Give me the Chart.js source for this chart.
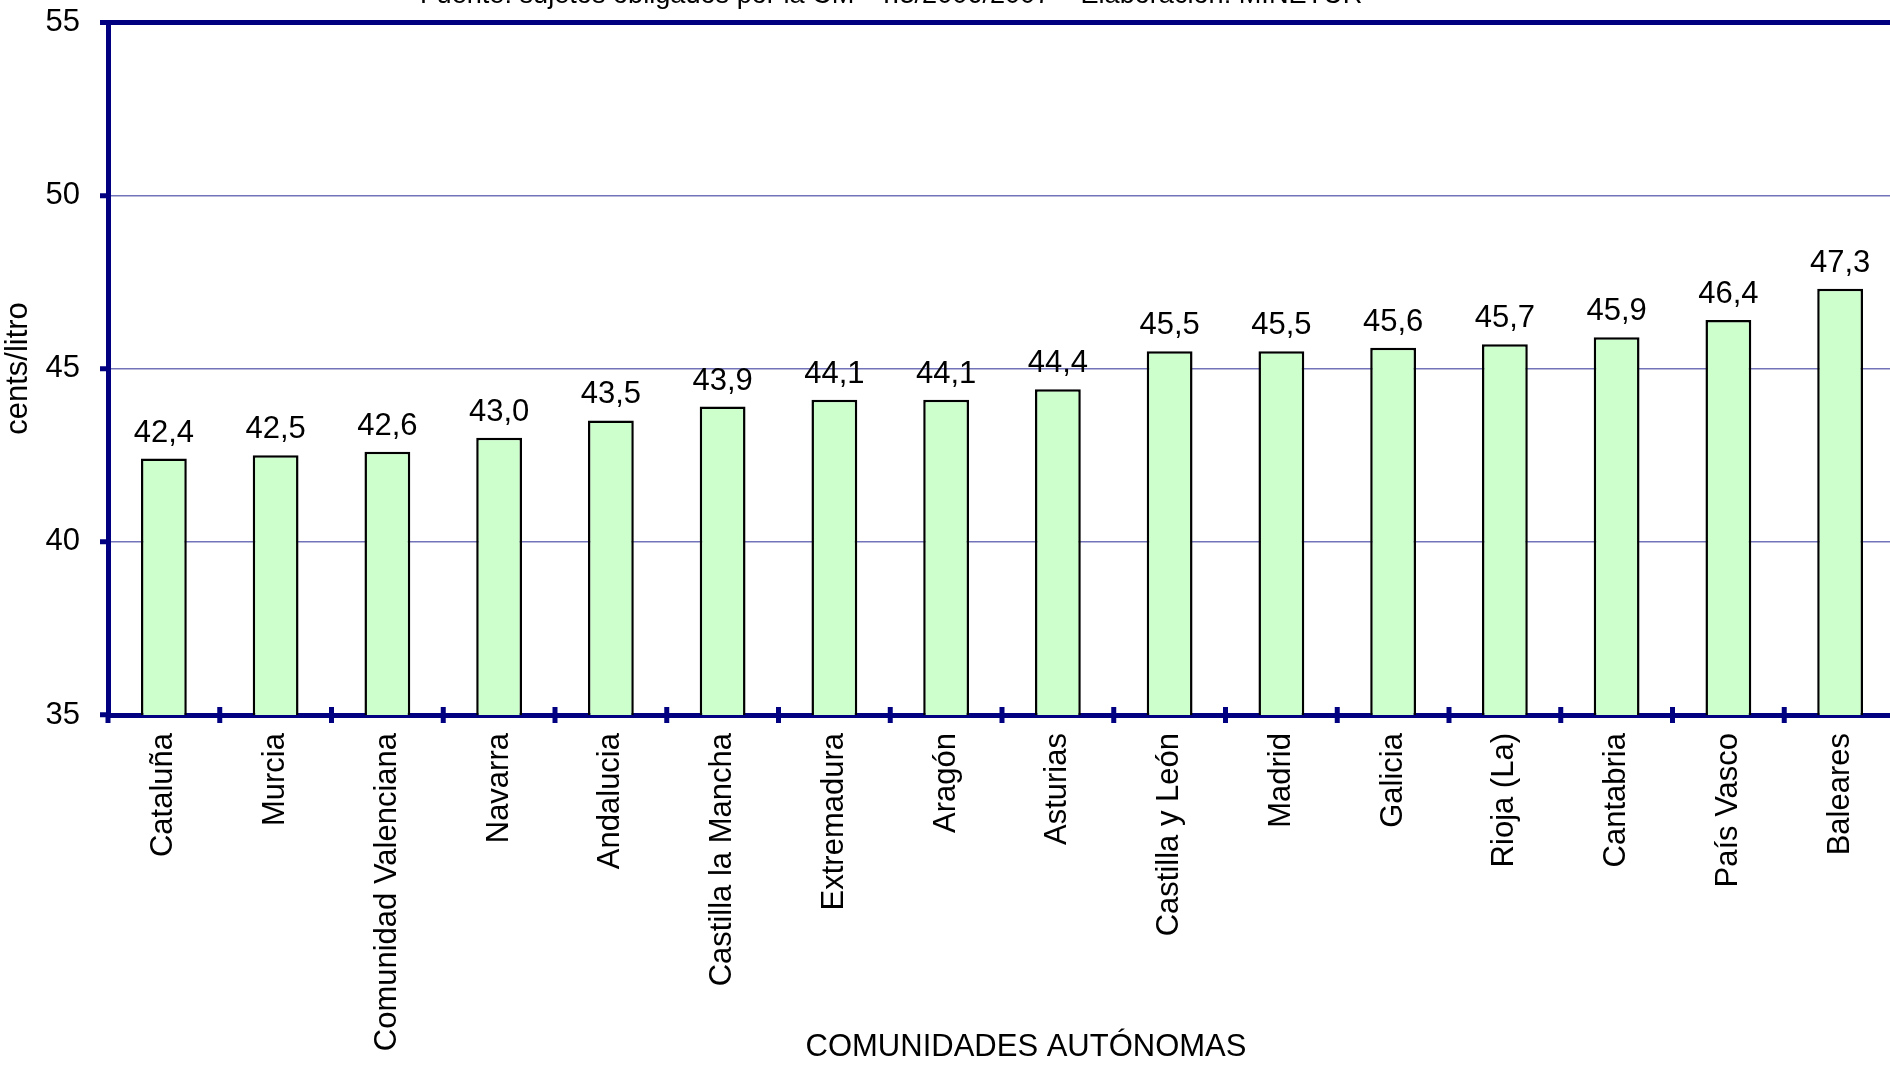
<!DOCTYPE html>
<html><head><meta charset="utf-8">
<style>
html,body{margin:0;padding:0;overflow:hidden;background:#fff;width:1890px;height:1065px}
canvas{display:block}
</style>
<script src="https://cdn.jsdelivr.net/npm/chart.js@4.4.0/dist/chart.umd.min.js"></script>
</head><body>
<canvas id="c" width="1900" height="1065" style="width:1900px;height:1065px"></canvas>
<script>
const categories = ["Cataluña","Murcia","Comunidad Valenciana","Navarra","Andalucia","Castilla la Mancha","Extremadura","Aragón","Asturias","Castilla y León","Madrid","Galicia","Rioja (La)","Cantabria","País Vasco","Baleares"];
const values = [42.4,42.5,42.6,43.0,43.5,43.9,44.1,44.1,44.4,45.5,45.5,45.6,45.7,45.9,46.4,47.3];
const yMin = 35, yMax = 55, yStep = 5;
const subtitle = "Fuente: sujetos obligados por la CM - T.3/2006/2007 – Elaboración: MINETUR";
const xTitle = "COMUNIDADES AUTÓNOMAS";
const yTitle = "cents/litro";

const FONT = '"Liberation Sans", Arial, sans-serif';
const NAVY = '#000080';

const overlay = {
  id: 'overlay',
  afterDatasetsDraw(chart) {
    const ctx = chart.ctx, area = chart.chartArea, xs = chart.scales.x;
    const meta = chart.getDatasetMeta(0);
    ctx.save();
    // value labels
    ctx.font = '31px ' + FONT;
    ctx.fillStyle = '#000';
    ctx.textAlign = 'center';
    ctx.textBaseline = 'alphabetic';
    meta.data.forEach((bar, i) => {
      ctx.fillText(values[i].toFixed(1).replace('.', ','), bar.x, bar.y - 17);
    });
    // category boundary ticks crossing the axis
    ctx.strokeStyle = NAVY;
    ctx.lineWidth = 5;
    const half = (xs.getPixelForValue(1) - xs.getPixelForValue(0)) / 2;
    for (let i = 0; i <= categories.length; i++) {
      const px = xs.getPixelForValue(i) - half;
      ctx.beginPath();
      ctx.moveTo(px, area.bottom - (i === 0 ? 0 : 8));
      ctx.lineTo(px, area.bottom + 8);
      ctx.stroke();
    }
    // x axis title
    ctx.fillStyle = '#000';
    ctx.font = '31px ' + FONT;
    ctx.textBaseline = 'alphabetic';
    ctx.fillText(xTitle, 1026, 1056);
    // cropped source line at the very top
    ctx.font = '100px ' + FONT;
    const w = ctx.measureText(subtitle).width;
    const fs = 100 * 943 / w;
    ctx.font = fs.toFixed(2) + 'px ' + FONT;
    ctx.textAlign = 'left';
    ctx.fillText(subtitle, 420, 2.5);
    ctx.restore();
  }
};

new Chart(document.getElementById('c'), {
  type: 'bar',
  data: {
    labels: categories,
    datasets: [{
      data: values,
      backgroundColor: '#CCFFCC',
      borderColor: '#000000',
      borderWidth: 2.5,
      barPercentage: 0.41,
      categoryPercentage: 1.0
    }]
  },
  options: {
    responsive: false,
    animation: false,
    devicePixelRatio: 1,
    layout: { padding: { top: 22, right: 4, left: 0, bottom: 0 } },
    plugins: { legend: { display: false }, tooltip: { enabled: false }, title: { display: false } },
    scales: {
      x: {
        z: 1,
        offset: true,
        grid: { display: true, drawOnChartArea: false, drawTicks: false, offset: true },
        border: { display: true, color: NAVY, width: 5 },
        ticks: {
          autoSkip: false, maxRotation: 90, minRotation: 90, padding: 18,
          color: '#000', font: { family: FONT, size: 31 }
        },
        title: { display: false },
        afterFit(s) { s.height = 350; s.paddingLeft = 0; s.paddingRight = 0; }
      },
      y: {
        min: yMin, max: yMax,
        ticks: {
          stepSize: yStep, padding: 20, color: '#000',
          font: { family: FONT, size: 31 },
          callback: v => String(v)
        },
        grid: {
          color: c => (c.tick && c.tick.value === yMax) ? NAVY : 'rgba(0,0,128,0.55)',
          lineWidth: c => (c.tick && c.tick.value === yMax) ? 5 : 1.5,
          tickColor: NAVY, tickWidth: 5, tickLength: 8, drawTicks: true
        },
        border: { display: true, color: NAVY, width: 5 },
        title: {
          display: true, text: yTitle, color: '#000',
          font: { family: FONT, size: 31 }, padding: 0
        },
        afterFit(s) { s.width = 108; s.paddingTop = 0; s.paddingBottom = 0; }
      }
    }
  },
  plugins: [overlay]
});
</script>
</body></html>
